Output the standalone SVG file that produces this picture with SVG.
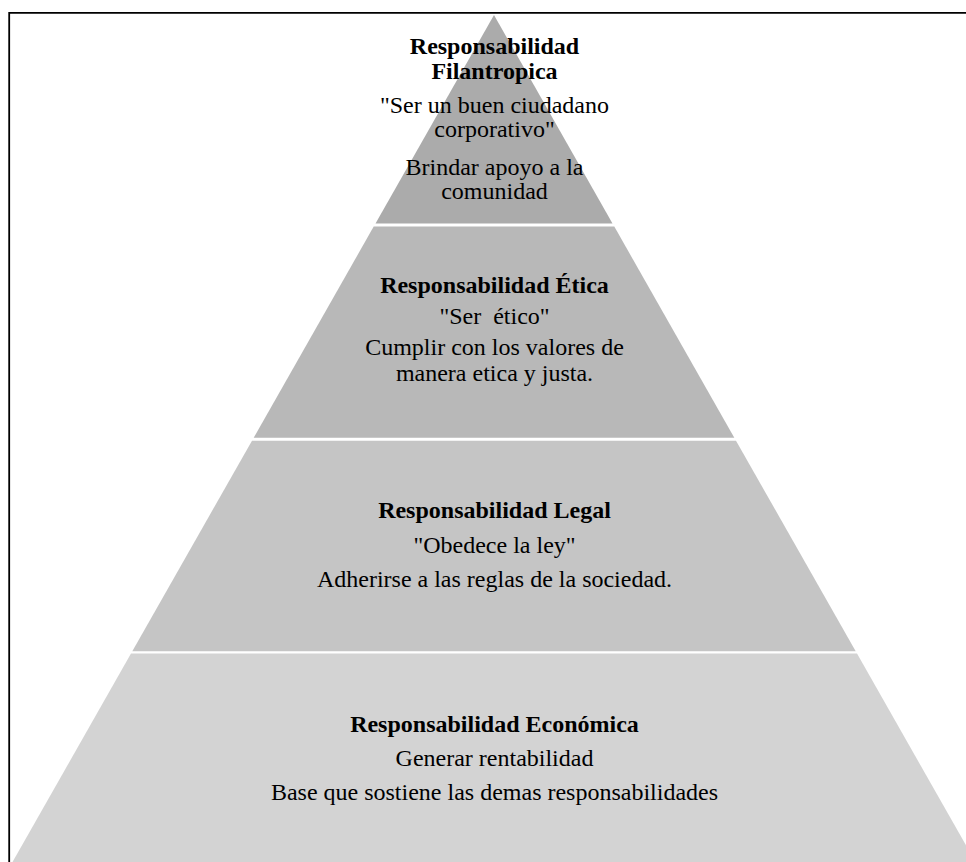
<svg xmlns="http://www.w3.org/2000/svg" width="966" height="862" viewBox="0 0 966 862">
<style>
text{font-family:"Liberation Serif","Times New Roman",serif;font-size:24px;fill:#000;text-anchor:middle}
.b{font-weight:bold}
.t1{fill:#ababab}.t2{fill:#b8b8b8}.t3{fill:#c5c5c5}.t4{fill:#d3d3d3}
</style>
<rect x="0" y="0" width="966" height="862" fill="#fff"/>
<path d="M9.2,862 V12.8 H966" fill="none" stroke="#000" stroke-width="1.8"/>
<g id="tier-filantropica">
<polygon class="t1" points="494,15 612.5,223.4 375.5,223.4"/>
<text class="b" x="494.5" y="54.3">Responsabilidad</text>
<text class="b" x="494.5" y="79">Filantropica</text>
<text x="494.5" y="113.3">"Ser un buen ciudadano</text>
<text x="494.5" y="137.3">corporativo"</text>
<text x="494.5" y="175">Brindar apoyo a la</text>
<text x="494.5" y="199">comunidad</text>
</g>
<g id="tier-etica">
<polygon class="t2" points="373.7,226.6 614.3,226.6 734.3,437.7 253.7,437.7"/>
<text class="b" x="494.5" y="293.3">Responsabilidad Ética</text>
<text x="494.5" y="324" style="white-space:pre">"Ser  ético"</text>
<text x="494.5" y="355">Cumplir con los valores de</text>
<text x="494.5" y="381">manera etica y justa.</text>
</g>
<g id="tier-legal">
<polygon class="t3" points="252,440.7 736,440.7 855.7,651.2 132.3,651.2"/>
<text class="b" x="494.5" y="518.3">Responsabilidad Legal</text>
<text x="494.5" y="553.3">"Obedece la ley"</text>
<text x="494.5" y="586.7">Adherirse a las reglas de la sociedad.</text>
</g>
<g id="tier-economica">
<polygon class="t4" points="131,653.6 857,653.6 975.5,862 12.5,862"/>
<text class="b" x="494.5" y="732.3">Responsabilidad Económica</text>
<text x="494.5" y="765.7">Generar rentabilidad</text>
<text x="494.5" y="800">Base que sostiene las demas responsabilidades</text>
</g>
</svg>
